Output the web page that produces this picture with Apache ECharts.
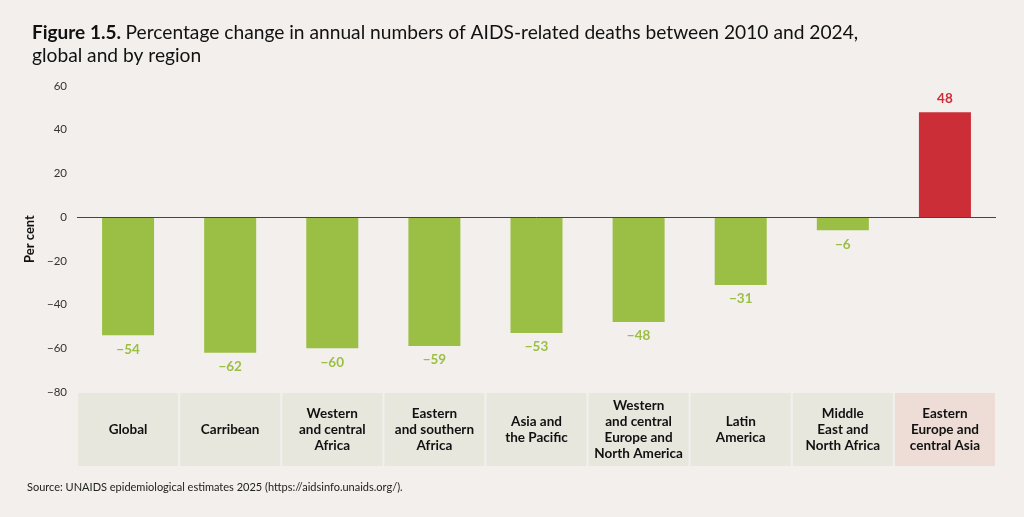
<!DOCTYPE html>
<html>
<head>
<meta charset="utf-8">
<script src="https://cdn.jsdelivr.net/npm/echarts@6/dist/echarts.min.js"></script>
<style>
  html, body { margin: 0; padding: 0; background: #f2efec; }
  #chart { width: 1024px; height: 517px; }
</style>
</head>
<body>
<div id="chart"></div>
<script>
var regions = [
  "Global",
  "Carribean",
  "Western\nand central\nAfrica",
  "Eastern\nand southern\nAfrica",
  "Asia and\nthe Pacific",
  "Western\nand central\nEurope and\nNorth America",
  "Latin\nAmerica",
  "Middle\nEast and\nNorth Africa",
  "Eastern\nEurope and\ncentral Asia"
];
var change = [-54, -62, -60, -59, -53, -48, -31, -6, 48];
var yTicks = { min: -80, max: 60, step: 20 };

var green = "#9bbf45";
var red = "#cc2e38";
var boxHeight = 73;
var lineH = 16;

var myChart = echarts.init(document.getElementById("chart"));

// label boxes under the plot, last one tinted like its bar
var catData = regions.map(function (name, i) {
  var lines = name.split("\n").length;
  var pad = (boxHeight - lines * lineH) / 2;
  return {
    value: name,
    textStyle: {
      backgroundColor: change[i] > 0 ? "#eeddd7" : "#e8e7de",
      padding: [pad, 0, pad, 0],
      fontWeight: "bold"
    }
  };
});

myChart.setOption({
  backgroundColor: "#f2efec",
  textStyle: { fontFamily: "Lato" },
  title: {
    left: 27,
    top: 16,
    text: "{b|Figure 1.5.} {r|Percentage change in annual numbers of AIDS-related deaths between 2010 and 2024,}\n{r|global and by region}",
    textStyle: {
      fontWeight: "normal",
      rich: {
        b: { fontFamily: "Lato", fontWeight: "bold", fontSize: 19, color: "#111", lineHeight: 23 },
        r: { fontFamily: "Lato", fontWeight: "normal", fontSize: 19.2, color: "#111", lineHeight: 23 }
      }
    }
  },
  graphic: [{
    type: "text",
    left: 27,
    top: 482,
    style: {
      text: "Source: UNAIDS epidemiological estimates 2025 (https://aidsinfo.unaids.org/).",
      fontFamily: "Lato",
      fontSize: 11,
      fill: "#222"
    }
  }],
  grid: { left: 77, right: 28, top: 86, bottom: 125 },
  xAxis: {
    type: "category",
    data: catData,
    axisLine: { show: false, onZero: false },
    axisTick: { show: false },
    axisLabel: {
      interval: 0,
      margin: 1,
      width: 100,
      fontFamily: "Lato",
      fontWeight: "bold",
      fontSize: 13.5,
      lineHeight: lineH,
      color: "#111",
      overflow: "none"
    }
  },
  yAxis: {
    type: "value",
    min: yTicks.min,
    max: yTicks.max,
    interval: yTicks.step,
    name: "Per cent",
    nameLocation: "middle",
    nameGap: 40,
    nameTextStyle: { fontFamily: "Lato", fontWeight: "bold", fontSize: 13, color: "#111" },
    axisLine: { show: false },
    axisTick: { show: false },
    splitLine: { show: false },
    axisLabel: {
      margin: 10,
      fontFamily: "Lato",
      fontSize: 11.5,
      color: "#333",
      formatter: function (v) { return v < 0 ? "\u2212" + Math.abs(v) : String(v); }
    }
  },
  series: [{
    type: "bar",
    barWidth: 52,
    data: change.map(function (v) {
      return {
        value: v,
        itemStyle: { color: v > 0 ? red : green },
        label: {
          position: v < 0 ? "bottom" : "top",
          color: v > 0 ? red : green
        }
      };
    }),
    label: {
      show: true,
      distance: 7,
      fontFamily: "Lato",
      fontWeight: "bold",
      fontSize: 13.5,
      formatter: function (p) {
        return p.value < 0 ? "\u2212" + Math.abs(p.value) : String(p.value);
      }
    },
    markLine: {
      silent: true,
      symbol: "none",
      label: { show: false },
      lineStyle: { color: "#444", width: 1, type: "solid" },
      data: [{ yAxis: 0 }]
    }
  }]
});
</script>
</body>
</html>
